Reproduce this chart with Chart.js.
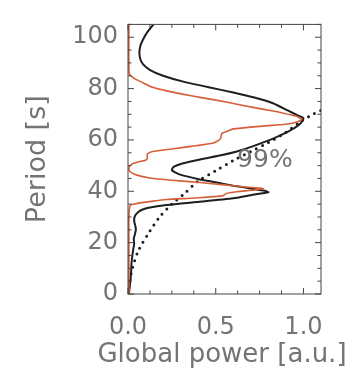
<!DOCTYPE html>
<html>
<head>
<meta charset="utf-8">
<script src="https://cdn.jsdelivr.net/npm/chart.js@4"></script>
<style>
  html, body { margin: 0; padding: 0; background: #fff; }
  canvas { display: block; }
</style>
</head>
<body>
<canvas id="chart" width="361" height="377"></canvas>
<script>
// global wavelet power, black = full series, red = second series, dots = 99% level
const blackPeriod = [0, 3, 6, 9, 12, 15, 17.5, 19.5, 21.5, 23.5, 25, 26.5, 28.5, 30.5, 32, 32.8, 33.5, 34.7, 36, 37.3, 38.5, 39.6, 40.2, 41.1, 42.2, 43.4, 44.6, 45.8, 47, 48.3, 49.5, 50.8, 52.4, 54, 55.5, 57.5, 60.6, 63.5, 66.2, 68.5, 69.5, 71.5, 74.2, 76.5, 78.5, 80.5, 82.8, 85, 87.2, 89.5, 91.5, 94, 96.5, 99, 102, 105];
const blackPower  = [0.005, 0.01, 0.015, 0.018, 0.02, 0.025, 0.03, 0.035, 0.033, 0.04, 0.045, 0.042, 0.035, 0.04, 0.06, 0.08, 0.11, 0.22, 0.42, 0.60, 0.70, 0.80, 0.78, 0.70, 0.60, 0.507, 0.41, 0.335, 0.28, 0.25, 0.26, 0.31, 0.41, 0.53, 0.62, 0.71, 0.83, 0.92, 0.98, 1.0, 0.97, 0.91, 0.83, 0.72, 0.60, 0.46, 0.31, 0.20, 0.126, 0.085, 0.07, 0.065, 0.07, 0.085, 0.11, 0.145];

const redPeriod = [0, 10, 20, 30, 34, 34.8, 35.6, 36.3, 36.8, 37.4, 38.2, 39.1, 39.8, 40.5, 41.1, 41.8, 42.5, 43.4, 44.3, 45.2, 46.3, 47.7, 49.2, 50.5, 51.5, 52.1, 53, 54.5, 55.5, 56.5, 57.5, 58.8, 60.4, 62.5, 63.5, 64.3, 65.3, 66.2, 67.2, 68, 69.2, 70.5, 71.7, 73.5, 75.4, 77.2, 79.1, 80.5, 82.2, 83.8, 85.4, 88, 105];
const redPower  = [0.005, 0.005, 0.005, 0.005, 0.01, 0.02, 0.08, 0.16, 0.22, 0.38, 0.54, 0.56, 0.62, 0.72, 0.77, 0.65, 0.55, 0.41, 0.25, 0.126, 0.05, 0.01, 0.005, 0.02, 0.06, 0.10, 0.11, 0.11, 0.14, 0.25, 0.36, 0.487, 0.526, 0.535, 0.57, 0.60, 0.75, 0.91, 0.97, 0.99, 0.96, 0.88, 0.79, 0.65, 0.51, 0.36, 0.22, 0.14, 0.087, 0.04, 0.01, 0.005, 0.005];

const sigPeriod = [0, 5, 10, 17, 24, 30, 35, 39, 44, 48, 52, 55.5, 59, 63, 67, 69.5, 71.5];
const sigPower  = [0, 0.01, 0.025, 0.06, 0.12, 0.18, 0.25, 0.32, 0.40, 0.50, 0.60, 0.70, 0.80, 0.90, 0.98, 1.04, 1.1];

const xTickValues = [0, 0.5, 1.0];
const yTickValues = [0, 20, 40, 60, 80, 100];
const sigLabel = '99%';
const xTitle = 'Global power [a.u.]';
const yTitle = 'Period [s]';

const textColor = '#747474';
const fontFamily = '"DejaVu Sans", sans-serif';

function toPoints(xs, ys) {
    return xs.map((v, i) => ({ x: v, y: ys[i] }));
}

// boxed frame with inward ticks on all four sides, the 99% label and the x title
// (x title drawn here so Chart.js does not squeeze it to the plot width)
const frameTicks = {
    id: 'frameTicks',
    afterDatasetsDraw(chart) {
        const { ctx, chartArea: a, scales: { x, y } } = chart;
        ctx.save();
        ctx.strokeStyle = '#444';
        ctx.lineWidth = 1;
        ctx.strokeRect(a.left, a.top, a.right - a.left, a.bottom - a.top);

        ctx.beginPath();
        for (let v = 0; v <= x.max + 1e-9; v += 0.125) {
            const px = x.getPixelForValue(v);
            const len = Math.abs(v % 0.5) < 1e-9 ? 6 : 3.5;
            ctx.moveTo(px, a.bottom); ctx.lineTo(px, a.bottom - len);
            ctx.moveTo(px, a.top);    ctx.lineTo(px, a.top + len);
        }
        for (let v = 0; v <= y.max + 1e-9; v += 5) {
            const py = y.getPixelForValue(v);
            const len = v % 20 === 0 ? 6 : 3.5;
            ctx.moveTo(a.left, py);  ctx.lineTo(a.left + len, py);
            ctx.moveTo(a.right, py); ctx.lineTo(a.right - len, py);
        }
        ctx.stroke();

        ctx.fillStyle = textColor;
        ctx.textAlign = 'center';
        ctx.textBaseline = 'middle';
        ctx.font = '25px ' + fontFamily;
        ctx.fillText(sigLabel, x.getPixelForValue(0.78), y.getPixelForValue(52));

        ctx.font = '26px ' + fontFamily;
        ctx.fillText(xTitle, 222, 355);
        ctx.restore();
    }
};

new Chart(document.getElementById('chart'), {
    type: 'scatter',
    data: {
        datasets: [
            {
                data: toPoints(redPower, redPeriod),
                showLine: true,
                borderColor: '#d65f38',
                borderWidth: 1.6,
                pointRadius: 0,
                tension: 0.2
            },
            {
                data: toPoints(blackPower, blackPeriod),
                showLine: true,
                borderColor: '#1e1e1e',
                borderWidth: 2,
                pointRadius: 0,
                tension: 0.2
            },
            {
                data: toPoints(sigPower, sigPeriod),
                showLine: true,
                borderColor: '#1e1e1e',
                borderWidth: 3,
                borderDash: [0, 6.8],
                borderCapStyle: 'round',
                pointRadius: 0,
                tension: 0.3
            }
        ]
    },
    options: {
        responsive: false,
        animation: false,
        layout: { padding: { top: 10, right: 40, bottom: 0, left: 0 } },
        plugins: {
            legend: { display: false },
            tooltip: { enabled: false }
        },
        scales: {
            x: {
                type: 'linear',
                min: 0,
                max: 1.1,
                grid: { display: false, drawTicks: false },
                border: { display: false },
                afterBuildTicks: s => { s.ticks = xTickValues.map(v => ({ value: v })); },
                afterFit: s => { s.height = 83; },
                ticks: {
                    color: textColor,
                    padding: 19,
                    font: { family: fontFamily, size: 24 },
                    callback: v => v.toFixed(1)
                }
            },
            y: {
                type: 'linear',
                min: 0,
                max: 105,
                grid: { display: false, drawTicks: false },
                border: { display: false },
                afterBuildTicks: s => { s.ticks = yTickValues.map(v => ({ value: v })); },
                afterFit: s => { s.width = 128; },
                ticks: {
                    color: textColor,
                    padding: 10,
                    font: { family: fontFamily, size: 24 },
                    callback: v => String(v)
                },
                title: {
                    display: true,
                    text: yTitle,
                    color: textColor,
                    font: { family: fontFamily, size: 27 },
                    padding: { top: 22, bottom: 0 }
                }
            }
        }
    },
    plugins: [frameTicks]
});
</script>
</body>
</html>
